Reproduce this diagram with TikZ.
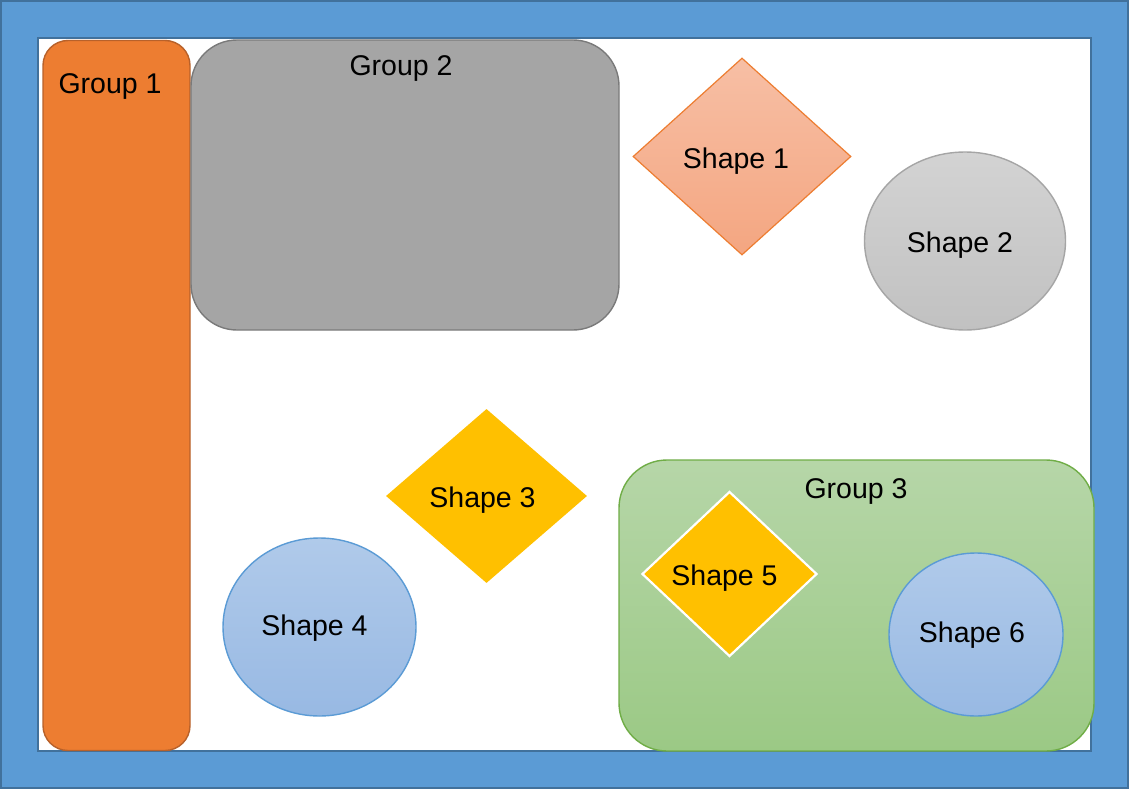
\documentclass[tikz,border=0pt]{standalone}
\usepackage{fontspec}
\setmainfont{Liberation Sans}
\usetikzlibrary{shapes.geometric}
\definecolor{frameblue}{HTML}{5B9BD5}
\definecolor{framedark}{HTML}{41719C}
\definecolor{gOne}{HTML}{ED7D31}
\definecolor{gOneB}{HTML}{B8612A}
\definecolor{gTwo}{HTML}{A5A5A5}
\definecolor{gTwoB}{HTML}{7A7A7A}
\definecolor{sOneT}{HTML}{F7BFA5}
\definecolor{sOneB}{HTML}{F4A681}
\definecolor{sTwoT}{HTML}{D3D3D3}
\definecolor{sTwoB}{HTML}{C1C1C1}
\definecolor{sTwoL}{HTML}{A5A5A5}
\definecolor{gold}{HTML}{FFC000}
\definecolor{bluT}{HTML}{B0CAEA}
\definecolor{bluB}{HTML}{98B9E3}
\definecolor{grT}{HTML}{B6D6A8}
\definecolor{grB}{HTML}{9BC985}
\definecolor{grL}{HTML}{70AD47}
\tikzset{
  txt/.style={font=\fontsize{28.5}{34}\selectfont, inner sep=0pt, yshift=-3pt},
  grp/.style={rectangle, inner sep=0pt, line width=1.4pt},
  dia/.style={diamond, inner sep=0pt, aspect=1},
  ell/.style={ellipse, inner sep=0pt, line width=1.4pt},
}
\begin{document}
\begin{tikzpicture}[x=1pt,y=-1pt]
\useasboundingbox (0,0) rectangle (1129,789);
% frame
\fill[frameblue, draw=framedark, line width=2pt] (1,1) rectangle (1128,788);
\fill[white, draw=framedark, line width=2pt] (38,38) rectangle (1091,751);
% groups
\node[grp, fill=gOne, draw=gOneB, rounded corners=25pt, minimum width=147pt, minimum height=710pt] (g1) at (116.5,395.5) {};
\node[txt] (g1t) at (110,84) {Group 1};
\node[grp, fill=gTwo, draw=gTwoB, rounded corners=46pt, minimum width=428pt, minimum height=290pt] (g2) at (405,185) {};
\node[txt] (g2t) at (401,66) {Group 2};
% shapes
\node[dia, top color=sOneT, bottom color=sOneB, draw=gOne, line width=1.2pt, minimum width=218pt, minimum height=197pt] (s1) at (742,156.5) {};
\node[txt] (s1t) at (736,158) {Shape 1};
\node[ell, top color=sTwoT, bottom color=sTwoB, draw=sTwoL, minimum width=201pt, minimum height=178pt] (s2) at (965,241) {};
\node[txt] (s2t) at (960,242) {Shape 2};
\node[dia, fill=gold, minimum width=201pt, minimum height=174pt] (s3) at (486.5,496) {};
\node[txt] (s3t) at (482.5,497) {Shape 3};
\node[ell, top color=bluT, bottom color=bluB, draw=frameblue, minimum width=193pt, minimum height=178pt] (s4) at (319.5,627) {};
\node[txt] (s4t) at (314.5,625) {Shape 4};
% group 3
\node[grp, top color=grT, bottom color=grB, draw=grL, rounded corners=48pt, minimum width=475pt, minimum height=291pt] (g3) at (856.5,605.5) {};
\node[txt] (g3t) at (856,489) {Group 3};
\node[dia, fill=gold, draw=white, line width=2.2pt, minimum width=175pt, minimum height=165pt] (s5) at (729.5,574) {};
\node[txt] (s5t) at (724.5,575) {Shape 5};
\node[ell, top color=bluT, bottom color=bluB, draw=frameblue, minimum width=174pt, minimum height=163pt] (s6) at (976,634.5) {};
\node[txt] (s6t) at (972,632) {Shape 6};
\end{tikzpicture}
\end{document}
